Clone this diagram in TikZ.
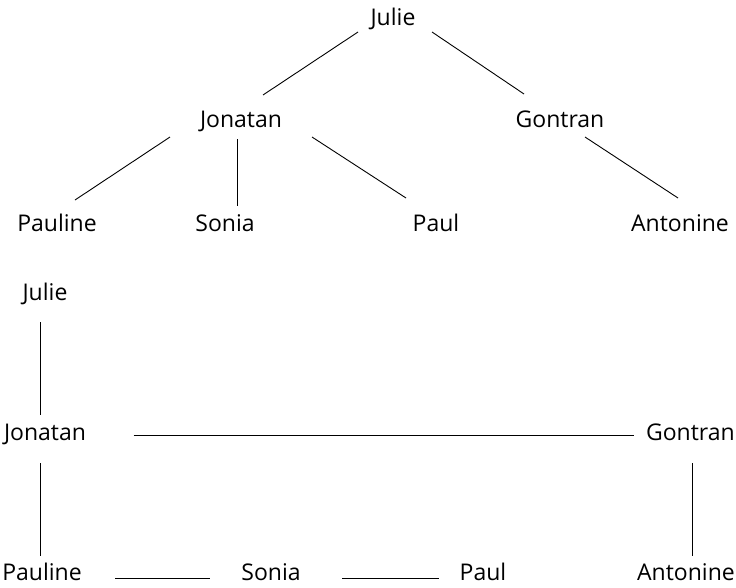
\documentclass[tikz,border=0pt]{standalone}
\usepackage{fontspec}
\setmainfont{Open Sans}
\usetikzlibrary{calc}
\begin{document}
\begin{tikzpicture}[x=1pt,y=-1pt,
  lbl/.style={anchor=base,inner sep=0pt,font=\fontsize{23}{27}\selectfont},
  link/.style={draw=black,line width=0.9pt}]
\useasboundingbox (0,0) rectangle (736,587);
% top tree
\node[lbl] (julie) at (393,25) {Julie};
\node[lbl] (jon) at (241,127) {Jonatan};
\node[lbl] (gon) at (560,127) {Gontran};
\node[lbl] (pauline) at (57,231) {Pauline};
\node[lbl] (sonia) at (225,231) {Sonia};
\node[lbl] (paul) at (436,231) {Paul};
\node[lbl] (ant) at (680,231) {Antonine};
\draw[link] ($(julie.base)+(-35,7)$) -- ($(jon.base)+(22,-32)$);
\draw[link] ($(julie.base)+(39,7)$) -- ($(gon.base)+(-36,-33)$);
\draw[link] ($(jon.base)+(-71,10)$) -- ($(pauline.base)+(18,-31)$);
\draw[link] ($(jon.base)+(-4,12)$) -- ($(sonia.base)+(12,-25)$);
\draw[link] ($(jon.base)+(71,10)$) -- ($(paul.base)+(-30,-33)$);
\draw[link] ($(gon.base)+(25,10)$) -- ($(ant.base)+(-2,-33)$);
% bottom tree
\node[lbl] (julieb) at (45,300) {Julie};
\node[lbl] (jonb) at (45,440) {Jonatan};
\node[lbl,anchor=base east] (gonb) at (735,440) {Gontran};
\node[lbl] (paulineb) at (42,580) {Pauline};
\node[lbl] (soniab) at (271,580) {Sonia};
\node[lbl] (paulb) at (483,580) {Paul};
\node[lbl,anchor=base east] (antb) at (735,580) {Antonine};
\draw[link] ($(julieb.base)+(-4.5,22)$) -- ($(jonb.base)+(-4.5,-25)$);
\draw[link] ($(jonb.base)+(88.5,-5)$) -- ($(gonb.base east)+(-101,-5)$);
\draw[link] ($(jonb.base)+(-4.5,23)$) -- ($(paulineb.base)+(-1.5,-24)$);
\draw[link] ($(gonb.base east)+(-43,23)$) -- ($(antb.base east)+(-43,-24)$);
\draw[link] ($(paulineb.base)+(73,-2)$) -- ($(soniab.base)+(-61,-2)$);
\draw[link] ($(soniab.base)+(71,-2)$) -- ($(paulb.base)+(-44,-2)$);
\end{tikzpicture}
\end{document}
